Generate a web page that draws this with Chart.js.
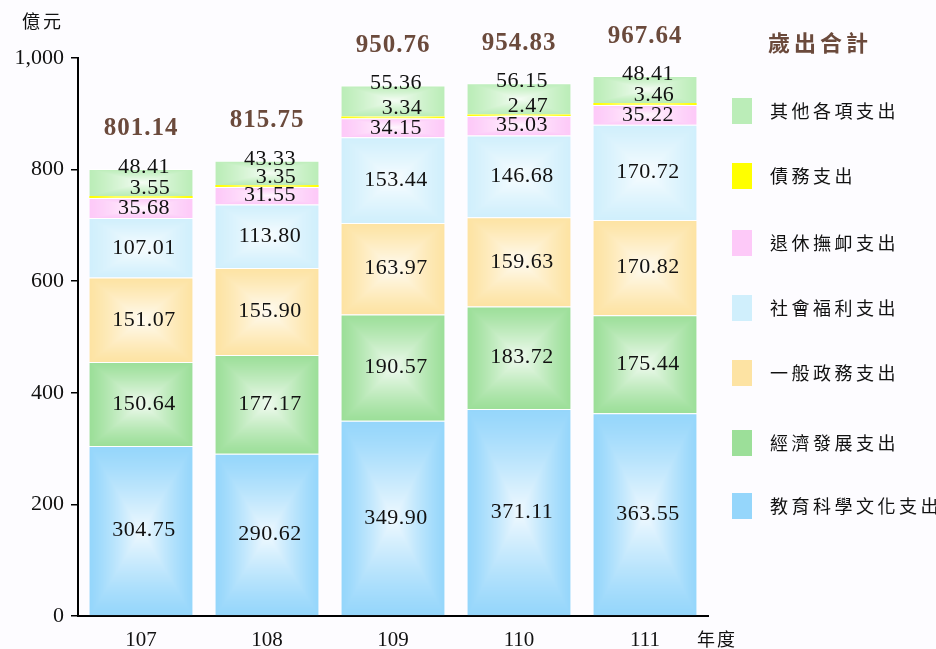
<!DOCTYPE html>
<html><head><meta charset="utf-8">
<script src="https://cdn.jsdelivr.net/npm/chart.js@4"></script>
<style>
html,body{margin:0;padding:0;background:#fdfcff;}
#wrap{position:relative;width:936px;height:649px;overflow:hidden;background:#fdfcff;}
#c{position:absolute;left:0;top:0;}
.t{position:absolute;font-family:"Noto Sans CJK TC","Noto Sans CJK JP",sans-serif;color:#111;white-space:nowrap;line-height:1;}
.sq{position:absolute;width:20px;height:26px;}
</style>
</head><body>
<div id="wrap">
<canvas id="c" width="936" height="649"></canvas>
</div>
<script>
// ---- data ----
const years = ['107', '108', '109', '110', '111'];
const seriesNames = ['教育科學文化支出', '經濟發展支出', '一般政務支出', '社會福利支出', '退休撫卹支出', '債務支出', '其他各項支出'];
const education = [304.75, 290.62, 349.90, 371.11, 363.55];
const economic  = [150.64, 177.17, 190.57, 183.72, 175.44];
const general   = [151.07, 155.90, 163.97, 159.63, 170.82];
const social    = [107.01, 113.80, 153.44, 146.68, 170.72];
const pension   = [35.68, 31.55, 34.15, 35.03, 35.22];
const debt      = [3.55, 3.35, 3.34, 2.47, 3.46];
const others    = [48.41, 43.33, 55.36, 56.15, 48.41];
const totals    = [801.14, 815.75, 950.76, 954.83, 967.64];
const yTicks    = [0, 200, 400, 600, 800, 1000];
const yUnit = '億元';
const xUnit = '年度';
const totalTitle = '歲出合計';

const series = [education, economic, general, social, pension, debt, others];
const colors = ['#95d6fb', '#9cdf99', '#fde3a3', '#d0effc', '#fdc9f8', '#ffff00', '#bbedb8'];

// ---- box gradient fill (pattern) ----
function hexRgb(h){h=h.replace('#','');return [parseInt(h.substr(0,2),16),parseInt(h.substr(2,2),16),parseInt(h.substr(4,2),16)];}
const patCache = {};
function boxFill(ctx, base, dsIdx) {
  if (ctx.type !== 'data' || !ctx.chart.chartArea || !ctx.chart.scales.x) return base;
  const chart = ctx.chart, xs = chart.scales.x, ys = chart.scales.y;
  const i = ctx.dataIndex;
  let lo = 0; for (let k = 0; k < dsIdx; k++) lo += series[k][i];
  const hi = lo + series[dsIdx][i];
  const cw = (xs.right - xs.left) / years.length;
  const w = Math.round(cw * 0.82);
  const cx = xs.getPixelForValue(i);
  const left = Math.round(cx - w / 2);
  const top = Math.round(ys.getPixelForValue(hi));
  const bot = Math.round(ys.getPixelForValue(lo));
  const h = Math.max(1, bot - top);
  const key = dsIdx + '_' + i + '_' + w + '_' + h + '_' + left + '_' + top;
  if (patCache[key]) return patCache[key];
  const pad = 3, W = w + 2 * pad, H = h + 2 * pad;
  const oc = document.createElement('canvas'); oc.width = W; oc.height = H;
  const octx = oc.getContext('2d');
  const img = octx.createImageData(W, H);
  const [r, g, b] = hexRgb(base);
  const hw = w / 2, hh = h / 2;
  for (let y = 0; y < H; y++) {
    for (let x = 0; x < W; x++) {
      const dx = Math.abs(x - pad + 0.5 - hw) / hw;
      const dy = Math.abs(y - pad + 0.5 - hh) / hh;
      let t = Math.min(1, Math.max(dx, dy));
      const f = Math.pow(1 - t, 1.2) * 0.85;
      const o = (y * W + x) * 4;
      img.data[o] = r + (255 - r) * f;
      img.data[o + 1] = g + (255 - g) * f;
      img.data[o + 2] = b + (255 - b) * f;
      img.data[o + 3] = 255;
    }
  }
  octx.putImageData(img, 0, 0);
  const p = chart.ctx.createPattern(oc, 'no-repeat');
  p.setTransform(new DOMMatrix([1, 0, 0, 1, left - pad, top - pad]));
  patCache[key] = p;
  return p;
}

const datasets = series.map((arr, d) => ({
  label: seriesNames[d],
  data: arr,
  backgroundColor: (ctx) => boxFill(ctx, colors[d], d),
  borderColor: '#ffffff',
  borderWidth: d === 5 ? 0 : {top: 1, left: 0, right: 0, bottom: 0},
  borderSkipped: false,
  barPercentage: 0.82,
  categoryPercentage: 1.0
}));

// ---- label plugin ----
const labelPlugin = {
  id: 'labels',
  afterDatasetsDraw(chart) {
    const ctx = chart.ctx;
    ctx.save();
    ctx.textAlign = 'center';
    ctx.textBaseline = 'middle';
    ctx.fillStyle = '#111';
    ctx.font = '22px "Liberation Serif", "DejaVu Serif", serif';
    ctx.letterSpacing = '0.5px';
    for (let d = 0; d < series.length; d++) {
      const meta = chart.getDatasetMeta(d);
      meta.data.forEach((el, i) => {
        const txt = series[d][i].toFixed(2);
        let x = el.x + 3, y = (el.y + el.base) / 2;
        if (d === 6) { y = el.y - 2; }
        if (d === 5) { x = el.x + 9; y = (el.y + el.base) / 2 - 9; }
        ctx.fillText(txt, x, y);
      });
    }
    // totals
    const topMeta = chart.getDatasetMeta(6);
    ctx.font = 'bold 25px "Liberation Serif", "DejaVu Serif", serif';
    ctx.fillStyle = '#6b4a3c';
    ctx.letterSpacing = '1px';
    topMeta.data.forEach((el, i) => {
      ctx.fillText(totals[i].toFixed(2), el.x, el.y - 40);
    });
    ctx.restore();
  }
};

new Chart(document.getElementById('c'), {
  type: 'bar',
  data: { labels: years, datasets },
  options: {
    responsive: false,
    animation: false,
    events: [],
    layout: { padding: { left: 0, right: 228, top: 58, bottom: 0 } },
    plugins: { legend: { display: false }, tooltip: { enabled: false } },
    scales: {
      x: {
        stacked: true,
        grid: { display: false },
        border: { display: true, color: '#000', width: 2 },
        ticks: { color: '#111', padding: 4, font: { family: '"Liberation Serif", serif', size: 21 } },
        afterFit(s) { s.height = 33; }
      },
      y: {
        stacked: true,
        min: 0, max: 1000,
        afterBuildTicks(s) { s.ticks = yTicks.map(v => ({ value: v })); },
        grid: { display: true, drawOnChartArea: false, drawTicks: true, tickLength: 7, color: '#000', lineWidth: 1.5 },
        border: { display: true, color: '#000', width: 2 },
        ticks: {
          color: '#111', padding: 7,
          font: { family: '"Liberation Serif", serif', size: 22 },
          callback: (v) => v.toLocaleString('en-US')
        },
        afterFit(s) { s.width = 78; }
      }
    }
  },
  plugins: [labelPlugin]
});

// ---- HTML legend & unit texts ----
const wrap = document.getElementById('wrap');
function addText(txt, x, y, size, extra) {
  const el = document.createElement('div');
  el.className = 't';
  el.textContent = txt;
  el.style.left = x + 'px';
  el.style.top = y + 'px';
  el.style.fontSize = size + 'px';
  if (extra) Object.assign(el.style, extra);
  wrap.appendChild(el);
  return el;
}
addText(yUnit, 22, 11, 18, { letterSpacing: '3px' });
addText(xUnit, 697, 629, 18, { letterSpacing: '2px' });
addText(totalTitle, 768, 30, 22, { letterSpacing: '4px', fontWeight: 'bold', color: '#6b4a3c' });
const rowY = [111, 176, 243, 308, 373, 443, 506];
for (let k = 0; k < seriesNames.length; k++) {
  const d = seriesNames.length - 1 - k;
  const sq = document.createElement('div');
  sq.className = 'sq';
  sq.style.left = '732px';
  sq.style.top = (rowY[k] - 13) + 'px';
  sq.style.background = colors[d];
  wrap.appendChild(sq);
  addText(seriesNames[d], 770, rowY[k] - 10, 18, { letterSpacing: '3.5px' });
}
</script>
</body></html>
